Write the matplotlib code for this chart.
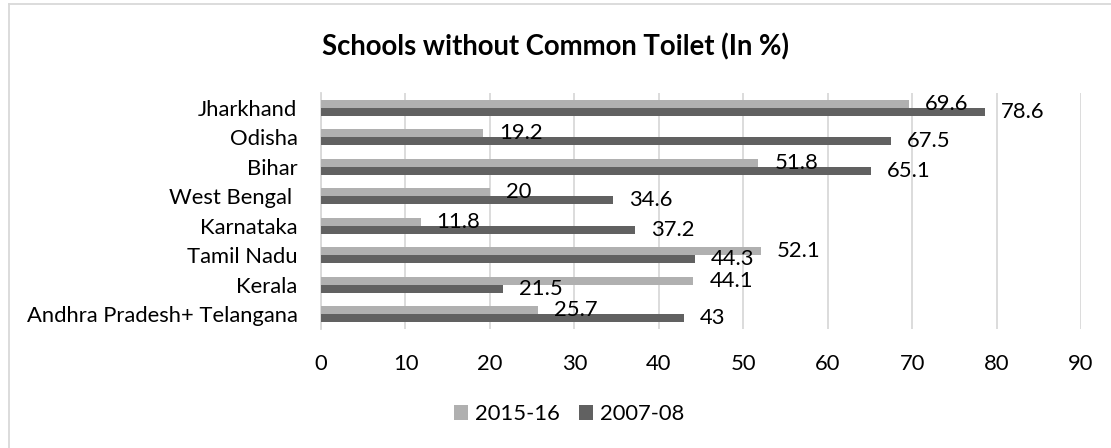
import matplotlib
matplotlib.use("Agg")
import matplotlib.pyplot as plt
import numpy as np

categories = ["Jharkhand", "Odisha", "Bihar", "West Bengal ", "Karnataka",
              "Tamil Nadu", "Kerala", "Andhra Pradesh+ Telangana"]
v2015 = [69.6, 19.2, 51.8, 20, 11.8, 52.1, 44.1, 25.7]
v2007 = [78.6, 67.5, 65.1, 34.6, 37.2, 44.3, 21.5, 43]
labels2015 = ["69.6", "19.2", "51.8", "20", "11.8", "52.1", "44.1", "25.7"]
labels2007 = ["78.6", "67.5", "65.1", "34.6", "37.2", "44.3", "21.5", "43"]
xticks = [0, 10, 20, 30, 40, 50, 60, 70, 80, 90]

plt.rcParams['font.family'] = ['Lato', 'DejaVu Sans']
W, H = 1111, 448
fig = plt.figure(figsize=(W/100, H/100), dpi=100)
ax = fig.add_axes([321/W, 1-329/H, (1081-321)/W, (329-93)/H])

light = "#b0b0b0"
dark = "#616161"
n = len(categories)
y = np.arange(n)
bh = 0.27
ax.barh(y - bh/2, v2015, height=bh, color=light, label="2015-16", zorder=3)
ax.barh(y + bh/2, v2007, height=bh, color=dark, label="2007-08", zorder=3)

fs = 15.8
for i in range(n):
    ax.annotate(labels2015[i], (v2015[i], y[i] - bh/2), xytext=(11.5, 0),
                textcoords="offset points", va="center", ha="left",
                fontsize=fs, color="#000000", zorder=4)
    ax.annotate(labels2007[i], (v2007[i], y[i] + bh/2), xytext=(11.5, 0),
                textcoords="offset points", va="center", ha="left",
                fontsize=fs, color="#000000", zorder=4)

ax.set_ylim(n - 0.5, -0.5)
ax.set_xlim(0, 90)
ax.set_xticks(xticks)
ax.set_xticklabels([str(t) for t in xticks], fontsize=fs)
ax.set_yticks(y)
ax.set_yticklabels(categories, fontsize=fs)
ax.tick_params(axis='both', length=0)
ax.tick_params(axis='x', pad=18)
ax.tick_params(axis='y', pad=17)
ax.grid(axis='x', color="#d9d9d9", linewidth=1.3, zorder=0)
for s in ["top", "right", "bottom"]:
    ax.spines[s].set_visible(False)
ax.spines["left"].set_color("#d9d9d9")
ax.spines["left"].set_linewidth(1.3)

fig.text(555/W, 1-47/H, "Schools without Common Toilet (In %)", ha="center",
         va="center", fontsize=19.8, fontweight="bold")

leg = fig.legend(loc="center", bbox_to_anchor=(569/W, 1-414/H), ncol=2,
                 frameon=False, fontsize=fs, handlelength=0.65, handleheight=0.65,
                 handletextpad=0.3, columnspacing=0.9)

# outer chart border (left & top visible)
fig.add_artist(plt.Line2D([8.5/W, 8.5/W], [0, 1-4.5/H], transform=fig.transFigure,
                          color="#d9d9d9", linewidth=1.3))
fig.add_artist(plt.Line2D([8.5/W, 1], [1-4.5/H, 1-4.5/H], transform=fig.transFigure,
                          color="#d9d9d9", linewidth=1.3))

fig.savefig("out.png", dpi=100)
